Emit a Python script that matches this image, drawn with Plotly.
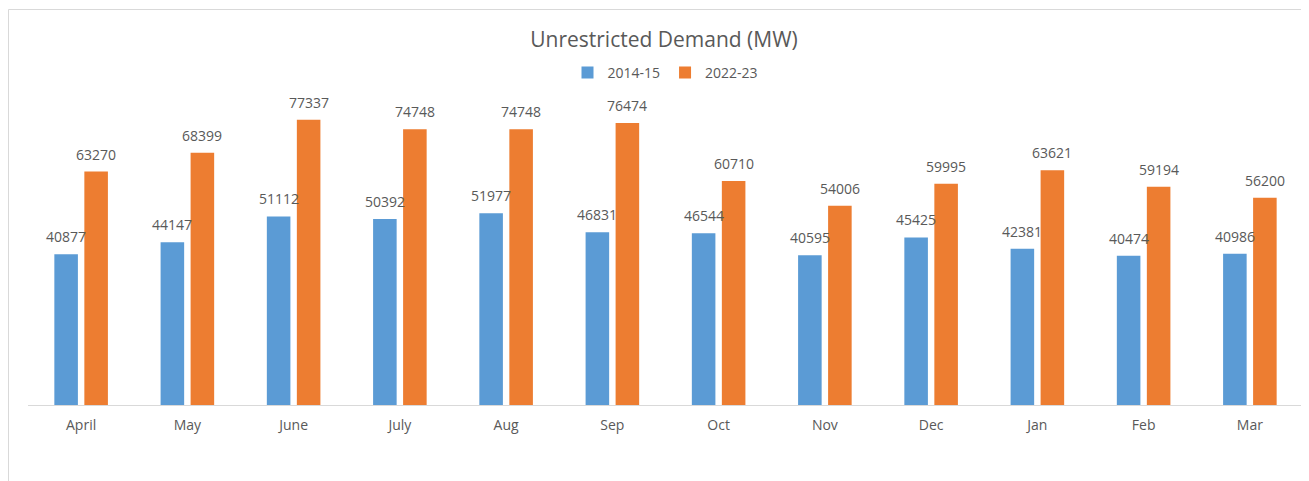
import plotly.graph_objects as go

months = ["April", "May", "June", "July", "Aug", "Sep", "Oct", "Nov", "Dec", "Jan", "Feb", "Mar"]
demand_2014_15 = [40877, 44147, 51112, 50392, 51977, 46831, 46544, 40595, 45425, 42381, 40474, 40986]
demand_2022_23 = [63270, 68399, 77337, 74748, 74748, 76474, 60710, 54006, 59995, 63621, 59194, 56200]
series_names = ["2014-15", "2022-23"]
colors = ["#5B9BD5", "#ED7D31"]

# page body has an 8px offset; compensate in margins
OFF = 8
W, H = 1309, 481
ML, MR, MT, MB = 28 - OFF, 6 + OFF, 73 - OFF, 76 + OFF
plot_w = W - ML - MR
plot_h = H - MT - MB

fig = go.Figure()
for name, vals, col in zip(series_names, [demand_2014_15, demand_2022_23], colors):
    fig.add_trace(go.Bar(
        x=months, y=vals, name=name,
        marker=dict(color=col, line=dict(width=0)),
    ))

label_font = dict(family="Open Sans", size=14, color="#595959")
annotations = []
for vals, shift in [(demand_2014_15, -15), (demand_2022_23, 15)]:
    for m, v in zip(months, vals):
        annotations.append(dict(
            x=m, y=v, xref="x", yref="y", text=str(v), showarrow=False,
            xanchor="center", yanchor="bottom", xshift=shift, yshift=6,
            font=label_font,
        ))

fig.update_layout(
    width=W, height=H,
    margin=dict(l=ML, r=MR, t=MT, b=MB, pad=0),
    paper_bgcolor="white", plot_bgcolor="white",
    barmode="group", bargap=0.435, bargroupgap=0.215,
    title=dict(text="Unrestricted Demand (MW)", x=((664 - OFF) / W), xanchor="center",
               y=1 - (40 - OFF) / H, yanchor="middle",
               font=dict(family="Open Sans", size=21, color="#595959")),
    legend=dict(orientation="h", x=0.5, xanchor="center", y=1.0, yanchor="middle",
                font=dict(family="Open Sans", size=14, color="#595959"),
                itemwidth=30, bgcolor="rgba(0,0,0,0)"),
    xaxis=dict(showgrid=False, showline=True, linecolor="#D9D9D9", linewidth=1,
               ticks="", ticklabelstandoff=7,
               tickfont=dict(family="Open Sans", size=14, color="#595959")),
    yaxis=dict(range=[0, 90000], showgrid=False, showline=False, showticklabels=False,
               zeroline=False, ticks=""),
    annotations=annotations,
    shapes=[dict(type="rect", xref="paper", yref="paper",
                 x0=(0.5 - ML) / plot_w, x1=(W + 20 - ML) / plot_w,
                 y0=-(MB + 20) / plot_h, y1=1 + (MT - 1.5) / plot_h,
                 line=dict(color="#D9D9D9", width=1), layer="below")],
)

fig.write_html("out.html")
